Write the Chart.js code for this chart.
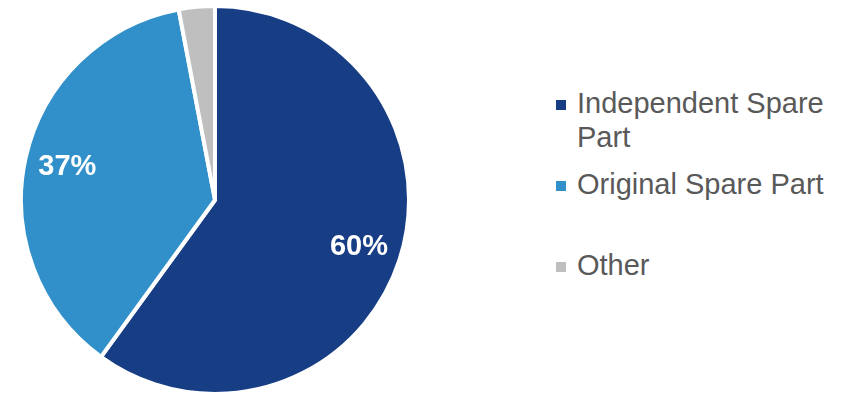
<!DOCTYPE html>
<html>
<head>
<meta charset="utf-8">
<script src="https://cdn.jsdelivr.net/npm/chart.js@4/dist/chart.umd.min.js"></script>
<style>
  html, body { margin: 0; padding: 0; background: #fff; overflow: hidden; }
  body { width: 857px; height: 394px; position: relative; font-family: Arial, "Liberation Sans", sans-serif; }
  #pieBox { position: absolute; left: 15px; top: 0; width: 400px; height: 400px; }
  #legend { position: absolute; left: 556px; top: 86px; list-style: none; margin: 0; padding: 0; }
  #legend li { position: relative; height: 81px; padding-left: 21px; font-size: 29px; line-height: 34px; color: #595959; width: 280px; }
  #legend .box { position: absolute; left: 0; top: 14px; width: 10px; height: 10px; }
</style>
</head>
<body>
<div id="pieBox"><canvas id="sparePie"></canvas></div>
<ul id="legend"></ul>
<script>
const categories = ['Independent Spare Part', 'Original Spare Part', 'Other']
const shares = [60, 37, 3]
const shownLabels = ['60%', '37%', '']
const colors = ['#173e85', '#3190c9', '#bfbfbf']

// percentage text inside the two big slices
const sliceLabels = {
  id: 'sliceLabels',
  afterDatasetsDraw(chart) {
    const ctx = chart.ctx
    const arcs = chart.getDatasetMeta(0).data
    ctx.save()
    ctx.font = 'bold 29px Arial, "Liberation Sans", sans-serif'
    ctx.fillStyle = '#ffffff'
    ctx.textAlign = 'center'
    ctx.textBaseline = 'middle'
    arcs.forEach((arc, i) => {
      if (!shownLabels[i]) return
      const {x, y, startAngle, endAngle, outerRadius} = arc.getProps(['x', 'y', 'startAngle', 'endAngle', 'outerRadius'], true)
      const mid = (startAngle + endAngle) / 2
      const r = outerRadius * 0.78
      ctx.fillText(shownLabels[i], x + Math.cos(mid) * r, y + Math.sin(mid) * r)
    })
    ctx.restore()
  }
}

new Chart(document.getElementById('sparePie').getContext('2d'), {
  type: 'pie',
  data: {
    labels: categories,
    datasets: [{
      data: shares,
      backgroundColor: colors,
      borderColor: '#ffffff',
      borderWidth: 4,
      borderJoinStyle: 'miter'
    }]
  },
  options: {
    responsive: true,
    maintainAspectRatio: false,
    animation: false,
    layout: { padding: 4 },
    plugins: {
      legend: { display: false },
      tooltip: { enabled: false }
    }
  },
  plugins: [sliceLabels]
})

const legend = document.getElementById('legend')
categories.forEach((name, i) => {
  const li = document.createElement('li')
  const box = document.createElement('span')
  box.className = 'box'
  box.style.background = colors[i]
  li.appendChild(box)
  li.appendChild(document.createTextNode(name))
  legend.appendChild(li)
})
</script>
</body>
</html>
